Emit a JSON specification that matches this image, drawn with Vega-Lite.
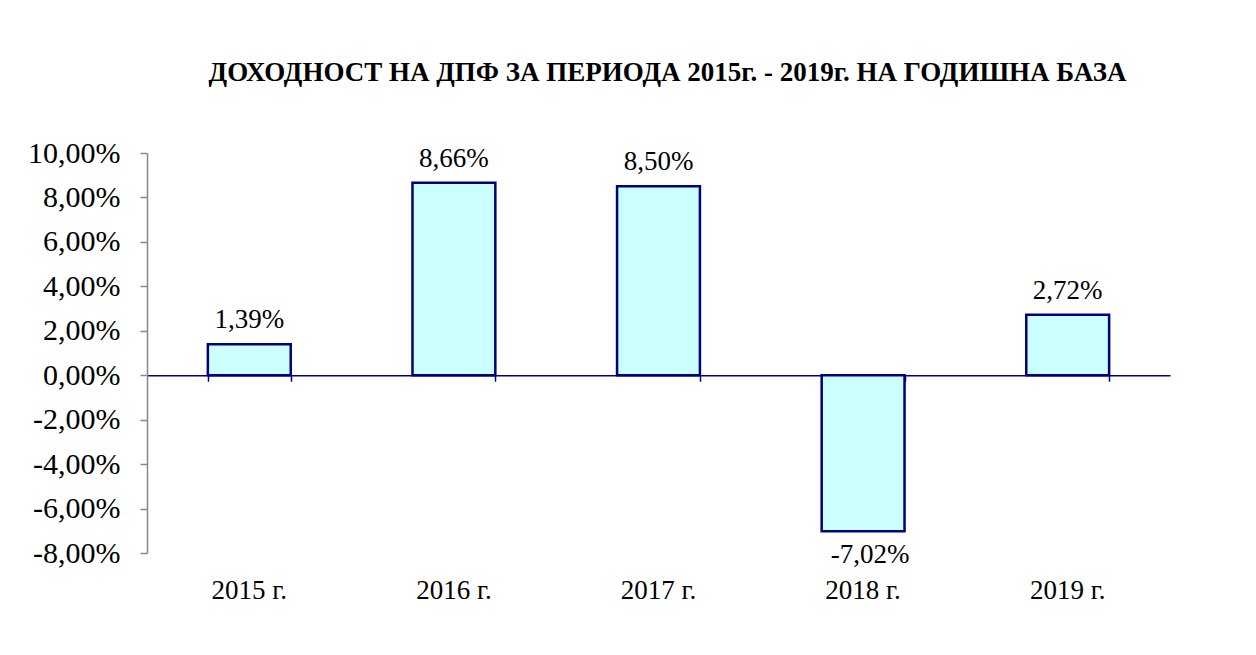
{
  "$schema": "https://vega.github.io/schema/vega-lite/v6.json",
  "autosize": {"type": "none"},
  "width": 1023,
  "height": 400,
  "padding": {"left": 147, "top": 153, "right": 86, "bottom": 102},
  "background": "white",
  "config": {
    "view": {"stroke": null},
    "font": "Liberation Serif",
    "locale": {"number": {"decimal": ",", "thousands": " ", "grouping": [3], "currency": ["", " лв."], "minus": "-"}}
  },
  "title": {
    "text": "ДОХОДНОСТ НА ДПФ ЗА ПЕРИОДА 2015г. - 2019г. НА ГОДИШНА БАЗА",
    "font": "Liberation Serif",
    "fontSize": 27,
    "fontWeight": "bold",
    "color": "black",
    "anchor": "middle",
    "dx": 9,
    "offset": 51
  },
  "data": {
    "values": [
      {"year": "2015 г.", "value": 0.0139},
      {"year": "2016 г.", "value": 0.0866},
      {"year": "2017 г.", "value": 0.085},
      {"year": "2018 г.", "value": -0.0702},
      {"year": "2019 г.", "value": 0.0272}
    ]
  },
  "encoding": {
    "x": {
      "field": "year",
      "type": "nominal",
      "sort": null,
      "scale": {"paddingInner": 0.595, "paddingOuter": 0.2975}
    },
    "y": {
      "field": "value",
      "type": "quantitative",
      "scale": {"domain": [-0.08, 0.1], "nice": false, "zero": false},
      "axis": {
        "title": null,
        "format": ".2%",
        "values": [-0.08, -0.06, -0.04, -0.02, 0, 0.02, 0.04, 0.06, 0.08, 0.1],
        "grid": false,
        "domainColor": "#888888",
        "domainWidth": 1.5,
        "tickColor": "#888888",
        "tickWidth": 1.5,
        "tickSize": 7,
        "labelPadding": 20,
        "labelFont": "Liberation Serif",
        "labelFontSize": 30,
        "labelColor": "black"
      }
    }
  },
  "layer": [
    {
      "mark": {"type": "bar", "fill": "#CCFFFF", "stroke": "#000080", "strokeWidth": 2.5},
      "encoding": {
        "x": {
          "field": "year",
          "type": "nominal",
          "sort": null,
          "axis": {
            "orient": "bottom",
            "offset": -177.8,
            "title": null,
            "labels": false,
            "domainColor": "#000080",
            "domainWidth": 1.5,
            "tickColor": "#000080",
            "tickWidth": 1.5,
            "tickSize": 6,
            "tickBand": "extent"
          }
        }
      }
    },
    {
      "transform": [{"filter": "datum.value >= 0"}],
      "mark": {"type": "text", "baseline": "bottom", "dy": -10, "fontSize": 27, "font": "Liberation Serif", "color": "black"},
      "encoding": {
        "x": {
          "field": "year",
          "type": "nominal",
          "sort": null,
          "axis": {
            "orient": "bottom",
            "title": null,
            "domain": false,
            "ticks": false,
            "labelPadding": 24,
            "labelAngle": 0,
            "labelFont": "Liberation Serif",
            "labelFontSize": 27,
            "labelColor": "black"
          }
        },
        "text": {"field": "value", "type": "quantitative", "format": ".2%"}
      }
    },
    {
      "transform": [{"filter": "datum.value < 0"}],
      "mark": {"type": "text", "baseline": "top", "dy": 11, "dx": 7, "fontSize": 27, "font": "Liberation Serif", "color": "black"},
      "encoding": {
        "x": {"field": "year", "type": "nominal", "sort": null, "axis": null},
        "text": {"field": "value", "type": "quantitative", "format": ".2%"}
      }
    }
  ],
  "resolve": {"axis": {"x": "independent"}}
}
